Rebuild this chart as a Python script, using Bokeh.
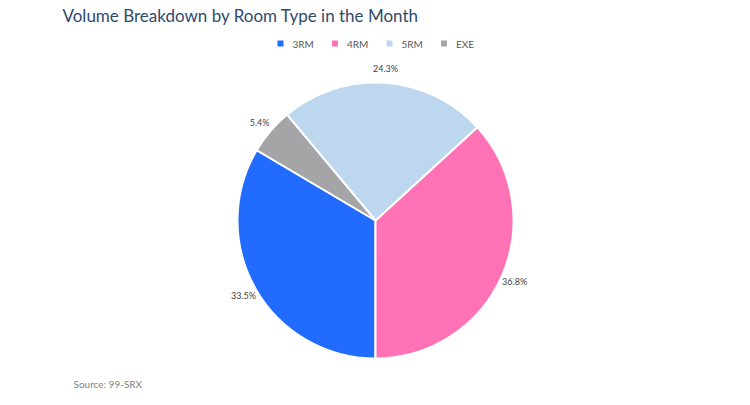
import math
from bokeh.plotting import figure
from bokeh.models import Range1d, ColumnDataSource
from bokeh.core.properties import value
from bokeh.embed import file_html
from bokeh.resources import INLINE

# ---- data ----
room_types = ["3RM", "4RM", "5RM", "EXE"]
shares = [33.5, 36.8, 24.3, 5.4]
colors = ["#216CFF", "#FF73B6", "#BDD7EE", "#A5A5A7"]
title_text = "Volume Breakdown by Room Type in the Month"
source_text = "Source: 99-SRX"

W, H = 734, 389
OFF = 0  # figure is drawn at the page's top-left corner

def X(sx):
    return sx - OFF

def Y(sy):
    return H - (sy - OFF)

p = figure(width=W, height=H, output_backend="svg", toolbar_location=None,
           x_range=Range1d(0, W), y_range=Range1d(0, H), min_border=0)
p.axis.visible = False
p.grid.visible = False
p.outline_line_color = None
p.background_fill_color = "white"
p.border_fill_color = "white"

# pie geometry
cx, cy, R = X(375), Y(220), 138
total = sum(shares)
end_3rm = 1.5 * math.pi  # first slice ends at 6 o'clock, slices run anticlockwise
start0 = end_3rm - shares[0] / total * 2 * math.pi
starts, ends, mids = [], [], []
a = start0
for s in shares:
    b = a + s / total * 2 * math.pi
    starts.append(a)
    ends.append(b)
    mids.append((a + b) / 2)
    a = b

src = ColumnDataSource(dict(start=starts, end=ends, color=colors, name=room_types))
p.wedge(x=cx, y=cy, radius=R, start_angle="start", end_angle="end",
        fill_color="color", line_color="white", line_width=2, source=src)

# data labels
LR = 152
lx = [cx + LR * math.cos(m) for m in mids]
ly = [cy + LR * math.sin(m) for m in mids]
labels = [f"{s:.1f}%" for s in shares]
p.text(x=lx, y=ly, text=labels, text_align="center", text_baseline="middle",
       text_font=value("Lato"), text_font_size="9px", text_color="#404040")

# title
p.text(x=[X(62)], y=[Y(15)], text=[title_text], text_align="left", text_baseline="middle",
       text_font=value("Lato"), text_font_size="17px", text_color="#2F4A6D")

# legend
leg_x0, leg_dx, leg_y = X(280), 54.5, Y(43)
sq_x = [leg_x0 + i * leg_dx for i in range(len(room_types))]
p.scatter(x=sq_x, y=[leg_y] * len(room_types), marker="square", size=6,
          fill_color=colors, line_color=None)
p.text(x=[x + 12 for x in sq_x], y=[leg_y] * len(room_types), text=room_types,
       text_align="left", text_baseline="middle", text_font=value("Lato"),
       text_font_size="10px", text_color="#595959")

# source
p.text(x=[X(73)], y=[Y(383)], text=[source_text], text_align="left", text_baseline="middle",
       text_font=value("Lato"), text_font_size="10px", text_color="#7F7F7F")

open("out.html", "w").write(file_html(p, INLINE))
